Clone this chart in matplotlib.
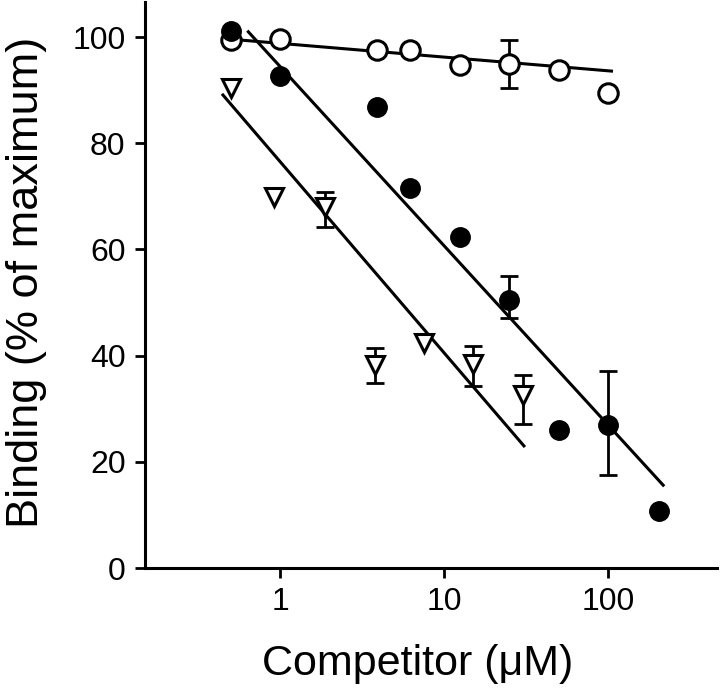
"""Competitive binding curves: binding vs competitor concentration."""
import matplotlib
matplotlib.use('Agg')
import matplotlib.pyplot as plt
from matplotlib.ticker import FixedLocator, FixedFormatter, NullLocator

plt.rcParams['font.family'] = ['Liberation Sans', 'DejaVu Sans']

# open circles
open_x = [0.5, 1.0, 3.9, 6.2, 12.5, 25, 50, 100]
open_y = [99.4, 99.6, 97.5, 97.6, 94.8, 95.0, 93.8, 89.5]
open_err_x = [25]
open_err_y = [94.9]
open_err = [4.5]
open_fit_x = [0.5, 105]
open_fit_y = [99.6, 93.6]

# filled circles
filled_x = [0.5, 1.0, 3.9, 6.2, 12.5, 25, 50, 100, 205]
filled_y = [101.1, 92.7, 86.8, 71.5, 62.3, 50.5, 26.0, 26.9, 10.8]
filled_err_x = [25, 100]
filled_err_y = [51.0, 27.3]
filled_err = [4.0, 9.8]
filled_fit_x = [0.64, 217]
filled_fit_y = [101.0, 15.6]

# open triangles
tri_x = [0.5, 0.92, 1.88, 3.8, 7.5, 15.0, 30.2]
tri_y = [90.5, 69.9, 68.0, 38.2, 42.3, 38.5, 32.6]
tri_err_x = [1.88, 3.8, 15.0, 30.2]
tri_err_y = [67.5, 38.2, 38.1, 31.8]
tri_err = [3.3, 3.3, 3.8, 4.6]
tri_fit_x = [0.448, 30.7]
tri_fit_y = [89.1, 23.0]

xticks = [1, 10, 100]
xtick_labels = ['1', '10', '100']
yticks = [0, 20, 40, 60, 80, 100]

fig = plt.figure(figsize=(7.2, 6.91), dpi=100)
ax = fig.add_axes([0.2014, 0.178, 0.7944, 0.819])

lw = 2.2
# fitted lines
ax.plot(open_fit_x, open_fit_y, color='black', lw=lw, zorder=2)
ax.plot(filled_fit_x, filled_fit_y, color='black', lw=lw, zorder=2)
ax.plot(tri_fit_x, tri_fit_y, color='black', lw=lw, zorder=2)

# error bars
for ex, ey, ee in [(open_err_x, open_err_y, open_err),
                   (filled_err_x, filled_err_y, filled_err),
                   (tri_err_x, tri_err_y, tri_err)]:
    ax.errorbar(ex, ey, yerr=ee, fmt='none', ecolor='black', elinewidth=2,
                capsize=6.5, capthick=2, zorder=3)

# markers
ax.plot(open_x, open_y, 'o', ms=14, mfc='white', mec='black', mew=2.2,
        zorder=4, clip_on=False)
ax.plot(filled_x, filled_y, 'o', ms=14, mfc='black', mec='black',
        zorder=5, clip_on=False)
ax.plot(tri_x, tri_y, 'v', ms=13, mfc='white', mec='black', mew=2.2,
        zorder=4, clip_on=False)

ax.set_xscale('log')
ax.set_xlim(0.15, 462)
ax.set_ylim(0, 106.6)
ax.xaxis.set_major_locator(FixedLocator(xticks))
ax.xaxis.set_major_formatter(FixedFormatter(xtick_labels))
ax.xaxis.set_minor_locator(NullLocator())
ax.set_yticks(yticks)

for side in ['top', 'right']:
    ax.spines[side].set_visible(False)
for side in ['left', 'bottom']:
    ax.spines[side].set_linewidth(2.2)
ax.tick_params(axis='both', which='major', direction='out', length=7,
               width=2, labelsize=23, pad=7)

ax.set_xlabel('Competitor (μM)', fontsize=31)
ax.set_ylabel('Binding (% of maximum)', fontsize=32.5)
ax.xaxis.set_label_coords(0.476, -0.134)
ax.yaxis.set_label_coords(-0.172, 0.505)

plt.savefig('out.png', dpi=100)
print("Generated out.png")
